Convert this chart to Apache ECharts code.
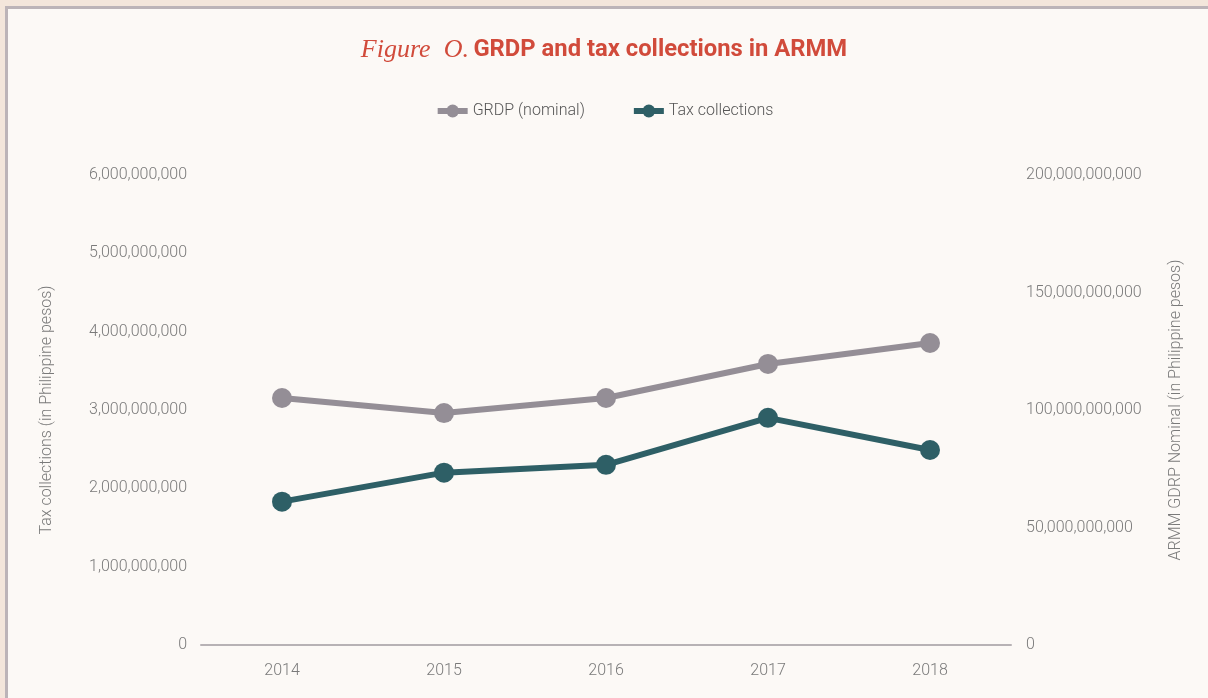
<!DOCTYPE html>
<html>
<head>
<meta charset="utf-8">
<script src="https://cdn.jsdelivr.net/npm/echarts@6/dist/echarts.min.js"></script>
<style>
  html, body { margin: 0; padding: 0; background: #f3e6db; }
  #card {
    position: absolute; left: 5px; top: 6px; width: 1210px; height: 700px;
    background: #fcf9f6; border-left: 3px solid #bcb4b8; border-top: 3px solid #bcb4b8;
  }
  #chart { position: absolute; left: 0; top: 0; width: 1208px; height: 698px; }
</style>
</head>
<body>
<div id="card"></div>
<div id="chart"></div>
<script>
// Years on the category axis
const years = ['2014', '2015', '2016', '2017', '2018'];
// Nominal GRDP of ARMM, Philippine pesos (right axis)
const grdpNominal = [105.1e9, 98.7e9, 105.1e9, 119.6e9, 128.5e9];
// Tax collections, Philippine pesos (left axis)
const taxCollections = [1.83e9, 2.2e9, 2.3e9, 2.9e9, 2.49e9];

const GREY = '#948e96';
const TEAL = '#2e5f66';
const LABEL = '#7a7a7a';
const FONT = 'Roboto';
const LIGHT = 300;

const fmt = v => Math.round(v).toLocaleString('en-US');

const chart = echarts.init(document.getElementById('chart'));
chart.setOption({
  backgroundColor: 'transparent',
  textStyle: { fontFamily: FONT },
  title: {
    left: 'center', top: 32,
    text: '{fig|Figure  O.} {main|GRDP and tax collections in ARMM}',
    textStyle: {
      rich: {
        fig: { fontFamily: 'Liberation Serif', fontStyle: 'italic', fontWeight: 'normal', fontSize: 26, color: '#d14b3b' },
        main: { fontFamily: FONT, fontWeight: 'bold', fontSize: 23.8, color: '#d14b3b' }
      }
    }
  },
  legend: {
    top: 98, left: 'center', itemGap: 46, itemWidth: 30, itemHeight: 16,
    textStyle: { fontFamily: FONT, fontWeight: LIGHT, fontSize: 16, color: '#555' },
    lineStyle: { width: 6 },
    data: ['GRDP (nominal)', 'Tax collections']
  },
  grid: { left: 201, right: 197, top: 175, bottom: 53 },
  xAxis: {
    type: 'category', data: years, boundaryGap: true,
    axisLine: { lineStyle: { color: '#b7b2b5', width: 2 } },
    axisTick: { show: false },
    axisLabel: { color: LABEL, fontSize: 16, fontWeight: LIGHT, fontFamily: FONT, margin: 18 }
  },
  yAxis: [
    {
      type: 'value', min: 0, max: 6e9, interval: 1e9, position: 'left',
      name: 'Tax collections (in Philippine pesos)', nameLocation: 'middle', nameGap: 146,
      nameTextStyle: { color: LABEL, fontSize: 16, fontWeight: LIGHT, fontFamily: FONT },
      axisLine: { show: false }, axisTick: { show: false }, splitLine: { show: false },
      axisLabel: { color: LABEL, fontSize: 16, fontWeight: LIGHT, fontFamily: FONT, margin: 14, formatter: fmt }
    },
    {
      type: 'value', min: 0, max: 200e9, interval: 50e9, position: 'right',
      name: 'ARMM GDRP Nominal (in Philippine pesos)', nameLocation: 'middle', nameGap: 157,
      nameRotate: 90,
      nameTextStyle: { color: LABEL, fontSize: 16, fontWeight: LIGHT, fontFamily: FONT },
      axisLine: { show: false }, axisTick: { show: false }, splitLine: { show: false },
      axisLabel: { color: LABEL, fontSize: 16, fontWeight: LIGHT, fontFamily: FONT, margin: 15, formatter: fmt }
    }
  ],
  series: [
    {
      name: 'GRDP (nominal)', type: 'line', yAxisIndex: 1, data: grdpNominal,
      symbol: 'circle', symbolSize: 20, color: GREY,
      lineStyle: { width: 6, color: GREY }, itemStyle: { color: GREY }
    },
    {
      name: 'Tax collections', type: 'line', yAxisIndex: 0, data: taxCollections,
      symbol: 'circle', symbolSize: 20, color: TEAL,
      lineStyle: { width: 6, color: TEAL }, itemStyle: { color: TEAL }
    }
  ]
});
</script>
</body>
</html>
